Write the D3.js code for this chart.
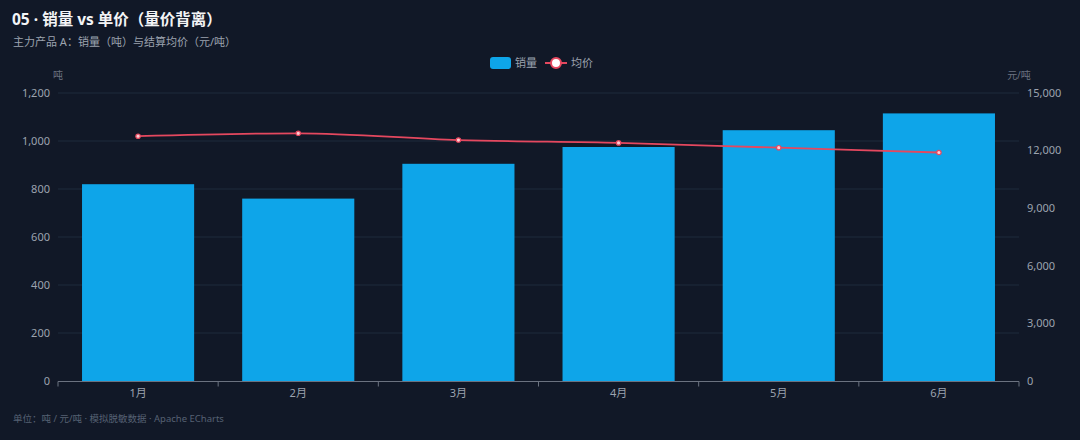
<!DOCTYPE html>
<html>
<head>
<meta charset="utf-8">
<script src="https://cdn.jsdelivr.net/npm/d3@7"></script>
<style>
  html, body { margin: 0; padding: 0; background: #111827; }
  svg { display: block; font-family: "Noto Sans", "Noto Sans CJK SC", sans-serif; }
</style>
</head>
<body>
<svg id="chart" width="1080" height="440"></svg>
<script>
// data
var months = ["1月", "2月", "3月", "4月", "5月", "6月"];
var volume = [820, 760, 905, 975, 1045, 1115];      // 吨
var price = [12750, 12900, 12550, 12400, 12150, 11900]; // 元/吨
var leftTicks = [0, 200, 400, 600, 800, 1000, 1200];
var rightTicks = [0, 3000, 6000, 9000, 12000, 15000];

var W = 1080, H = 440;
var m = { left: 58, right: 61, top: 93, bottom: 59 };
var svg = d3.select("#chart");

svg.append("rect").attr("width", W).attr("height", H).attr("fill", "#111827");

// titles
svg.append("text").attr("x", 12).attr("y", 25)
  .attr("fill", "#f3f4f6").attr("font-size", 15.5).attr("font-weight", "bold")
  .text("05 · 销量 vs 单价（量价背离）");
svg.append("text").attr("x", 13).attr("y", 46)
  .attr("fill", "#9ca3af").attr("font-size", 11)
  .text("主力产品 A：销量（吨）与结算均价（元/吨）");

var x = d3.scaleBand().domain(months).range([m.left, W - m.right]).paddingInner(0.3).paddingOuter(0.15);
var xb = d3.scaleBand().domain(months).range([m.left, W - m.right]);
var yL = d3.scaleLinear().domain([0, 1200]).range([H - m.bottom, m.top]);
var yR = d3.scaleLinear().domain([0, 15000]).range([H - m.bottom, m.top]);

// grid
svg.append("g").selectAll("line").data(leftTicks.slice(1)).join("line")
  .attr("x1", m.left).attr("x2", W - m.right)
  .attr("y1", function(d){ return yL(d); }).attr("y2", function(d){ return yL(d); })
  .attr("stroke", "#1f2a3c").attr("stroke-width", 1);

// left axis labels
svg.append("g").selectAll("text").data(leftTicks).join("text")
  .attr("x", m.left - 8).attr("y", function(d){ return yL(d); }).attr("dy", "0.35em")
  .attr("text-anchor", "end").attr("fill", "#9ca3af").attr("font-size", 11)
  .text(function(d){ return d3.format(",")(d); });

// right axis labels
svg.append("g").selectAll("text").data(rightTicks).join("text")
  .attr("x", W - m.right + 8).attr("y", function(d){ return yR(d); }).attr("dy", "0.35em")
  .attr("text-anchor", "start").attr("fill", "#9ca3af").attr("font-size", 11)
  .text(function(d){ return d3.format(",")(d); });

// axis names
svg.append("text").attr("x", m.left).attr("y", 79).attr("text-anchor", "middle")
  .attr("fill", "#6b7280").attr("font-size", 10).text("吨");
svg.append("text").attr("x", W - m.right).attr("y", 79).attr("text-anchor", "middle")
  .attr("fill", "#6b7280").attr("font-size", 10).text("元/吨");

// bars
svg.append("g").selectAll("rect").data(volume).join("rect")
  .attr("x", function(d, i){ return x(months[i]); })
  .attr("width", x.bandwidth())
  .attr("y", function(d){ return yL(d); })
  .attr("height", function(d){ return yL(0) - yL(d); })
  .attr("fill", "#0ea5e9");

// x axis
var xAxis = svg.append("g").attr("transform", "translate(0," + (H - m.bottom + 0.5) + ")");
xAxis.append("line").attr("x1", m.left).attr("x2", W - m.right).attr("stroke", "#6b7280");
var bounds = months.map(function(d){ return xb(d); }).concat([W - m.right]);
xAxis.selectAll("line.tk").data(bounds).join("line").attr("class", "tk")
  .attr("x1", function(d){ return d; }).attr("x2", function(d){ return d; })
  .attr("y1", 0).attr("y2", 5).attr("stroke", "#6b7280");
xAxis.selectAll("text").data(months).join("text")
  .attr("x", function(d){ return xb(d) + xb.bandwidth() / 2; }).attr("y", 15)
  .attr("text-anchor", "middle").attr("fill", "#9ca3af").attr("font-size", 11)
  .text(function(d){ return d; });

// price line
var cx = function(d, i){ return xb(months[i]) + xb.bandwidth() / 2; };
var line = d3.line().x(cx).y(function(d){ return yR(d); }).curve(d3.curveMonotoneX);
svg.append("path").datum(price).attr("d", line)
  .attr("fill", "none").attr("stroke", "#e5485f").attr("stroke-width", 1.8);
svg.append("g").selectAll("circle").data(price).join("circle")
  .attr("cx", cx).attr("cy", function(d){ return yR(d); }).attr("r", 2.2)
  .attr("fill", "#fecdd3").attr("stroke", "#e5485f").attr("stroke-width", 1.2);

// legend
var lg = svg.append("g").attr("transform", "translate(490,63)");
lg.append("rect").attr("x", 0).attr("y", -6).attr("width", 21).attr("height", 12).attr("rx", 3).attr("fill", "#0ea5e9");
lg.append("text").attr("x", 25).attr("y", 0).attr("dy", "0.35em").attr("fill", "#9ca3af").attr("font-size", 11).text("销量");
lg.append("line").attr("x1", 55).attr("x2", 77).attr("y1", 0).attr("y2", 0).attr("stroke", "#e5485f").attr("stroke-width", 2);
lg.append("circle").attr("cx", 66).attr("cy", 0).attr("r", 5).attr("fill", "#fff").attr("stroke", "#e5485f").attr("stroke-width", 2);
lg.append("text").attr("x", 81).attr("y", 0).attr("dy", "0.35em").attr("fill", "#9ca3af").attr("font-size", 11).text("均价");

// footer
svg.append("text").attr("x", 13).attr("y", 422)
  .attr("fill", "#566173").attr("font-size", 9.5)
  .text("单位：吨 / 元/吨 · 模拟脱敏数据 · Apache ECharts");
</script>
</body>
</html>
